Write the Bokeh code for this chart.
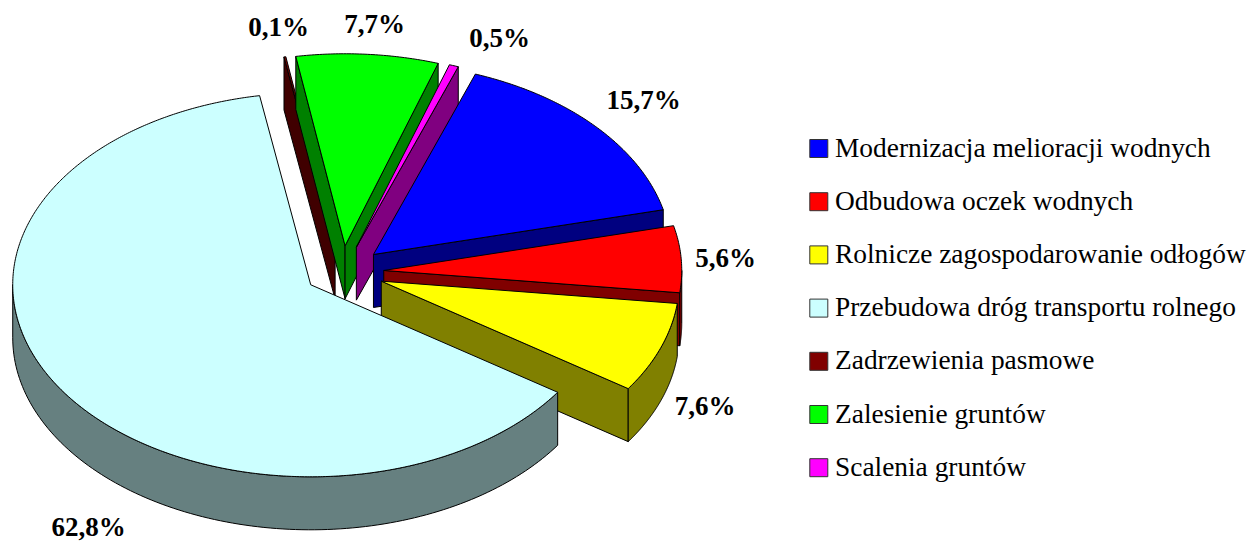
import numpy as np
from bokeh.embed import file_html
from bokeh.resources import INLINE
from bokeh.plotting import figure
from bokeh.models import Range1d
from bokeh.core.properties import value

categories = ["Modernizacja melioracji wodnych", "Odbudowa oczek wodnych",
              "Rolnicze zagospodarowanie odłogów", "Przebudowa dróg transportu rolnego",
              "Zadrzewienia pasmowe", "Zalesienie gruntów", "Scalenia gruntów"]
shares = [15.7, 5.6, 7.6, 62.8, 0.1, 7.7, 0.5]
labels = ["15,7%", "5,6%", "7,6%", "62,8%", "0,1%", "7,7%", "0,5%"]
top_colors = ["#0000FF", "#FF0000", "#FFFF00", "#CCFFFF", "#800000", "#00FF00", "#FF00FF"]
side_colors = ["#000080", "#800000", "#808000", "#668080", "#400000", "#008000", "#800080"]

# layout (page pixels)
CX, CY, A, B, DEPTH, EXPLODE, START = 342.5, 271.5, 298.0, 192.0, 53.0, 0.137, 20.0
label_pos = [(643, 99), (725, 257), (704.5, 405.5), (88, 526), (278, 26.5), (374, 23), (499, 37)]
apex_nudge = [(0, 0), (0, 0), (0, 0), (2, -1.5), (-1, 0), (-1, 0), (0, 0)]
draw_order = [4, 5, 6, 0, 1, 2, 3]
LABEL_FONT = "27px"
LEG_FONT = "27.4px"

p = figure(width=1248, height=541, output_backend="svg", toolbar_location=None,
           x_range=Range1d(0, 1248), y_range=Range1d(541, 0), min_border=0,
           outline_line_color=None)
p.axis.visible = False
p.grid.visible = False

total = sum(shares)
spans = np.array(shares) / total * 360.0
starts = START + np.concatenate([[0], np.cumsum(spans)[:-1]])


def pt(ax, ay, deg):
    t = np.radians(deg)
    return ax + A * np.sin(t), ay - B * np.cos(t)


def face(xs, ys, color):
    p.patch(list(xs), list(ys), fill_color=color, line_color="black", line_width=1,
            line_join="round")


for i in draw_order:
    s, e = starts[i], starts[i] + spans[i]
    mid = np.radians((s + e) / 2)
    ax = CX + EXPLODE * A * np.sin(mid) + apex_nudge[i][0]
    ay = CY - EXPLODE * B * np.cos(mid) + apex_nudge[i][1]
    for ang, visible in ((s, np.sin(np.radians(s)) < 0), (e, np.sin(np.radians(e)) > 0)):
        if visible:
            ex, ey = pt(ax, ay, ang)
            face([ax, ex, ex, ax], [ay, ey, ey + DEPTH, ay + DEPTH], side_colors[i])
    lo, hi = max(s, 90.0), min(e, 270.0)
    if hi > lo:
        th = np.linspace(lo, hi, 120)
        wx, wy = pt(ax, ay, th)
        face(np.r_[wx, wx[::-1]], np.r_[wy, wy[::-1] + DEPTH], side_colors[i])
    th = np.linspace(s, e, max(int(spans[i] * 2), 4))
    tx, ty = pt(ax, ay, th)
    face(np.r_[ax, tx], np.r_[ay, ty], top_colors[i])

for lab, (lx, ly) in zip(labels, label_pos):
    p.text([lx], [ly], text=[lab], text_font=value("Liberation Serif"), text_font_size=LABEL_FONT,
           text_font_style="bold", text_color="black", text_align="center", text_baseline="middle")

for k, name in enumerate(categories):
    y = 148 + k * 53.2
    p.rect([818.3], [y], width=18, height=18, fill_color=top_colors[k], line_color="#333333", line_width=1)
    p.text([834.5], [y - 1], text=[name], text_font=value("Liberation Serif"), text_font_size=LEG_FONT,
           text_color="black", text_align="left", text_baseline="middle")

open("out.html", "w").write(file_html(p, INLINE))
